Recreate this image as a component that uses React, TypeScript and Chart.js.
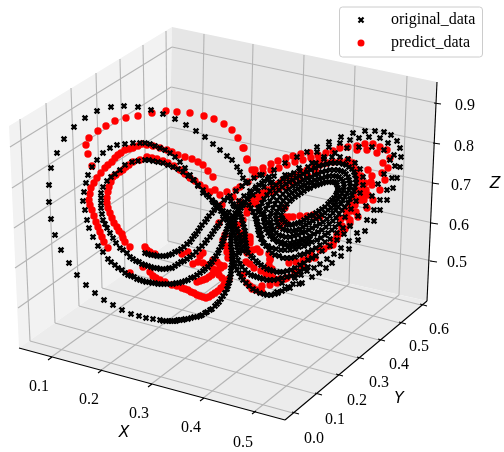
import React, { useEffect, useRef } from "react";
import { Chart, registerables } from "chart.js";

Chart.register(...registerables);

type P = [number, number];

// ---- original_data in projected plot units ----
const origSparseTop: P[] = [[246,183],[243,178],[240,172],[237,167],[232,160],[227,156],[220,150],[213,144],[205,137],[196,131],[186,125],[175,119],[163,114],[151,110],[138,107],[124,106],[111,107],[97,111],[85,118],[74,127],[64,139],[57,153],[51,168],[49,185],[49,202],[51,219]];
const origSparseBottom: P[] = [[55,235],[61,250],[69,263],[77,275],[86,285],[95,293],[104,300],[113,305],[122,310],[131,314],[139,316],[146,318],[153,319]];
const origSweep: P[] = [[160,320],[163,321],[166,321],[169,321],[171,321],[174,321],[176,321],[178,320],[180,320],[183,320],[185,319],[188,319],[191,318],[194,317],[197,317],[200,316],[202,315],[205,313],[207,312],[210,310],[212,309],[215,306],[217,304],[219,302],[221,299],[223,296],[225,293],[227,289],[228,286],[229,283],[230,280],[230,277],[231,274],[231,271],[231,268],[232,265],[232,262],[232,259],[232,256],[232,253],[232,250],[231,247],[231,244],[231,241],[231,238],[231,235],[232,232],[232,229],[233,226],[234,223],[235,220],[236,217],[238,214],[239,211],[241,208],[243,205],[245,202],[247,199],[249,196],[251,193],[255,189],[259,185],[264,181],[269,177]];
const origLeftOuterTop: P[] = [[207,195],[203,190],[198,185],[194,180],[190,175],[185,168],[180,162],[175,157],[170,153],[165,150],[160,148],[155,146],[150,144],[145,143],[140,143],[133,143],[125,144],[117,145],[110,148],[103,153],[97,160],[92,167],[88,175],[86,183],[84,192],[83,201],[85,210],[87,220],[89,228],[93,237],[98,246],[103,252]];
const origLeftOuterLow: P[] = [[108,259],[111,262],[115,265],[118,268],[122,270],[125,273],[128,275],[131,276],[134,277],[137,279],[140,280],[143,281],[146,282],[149,282],[152,283],[155,283],[158,284],[161,284],[164,284],[167,284],[170,284],[173,284],[176,283],[179,283],[182,282],[185,281],[188,280],[191,278],[194,277],[197,275],[200,273],[203,271],[205,269],[208,267],[210,264],[212,262],[214,259],[216,256],[218,253],[219,250],[221,247],[222,244],[223,241],[224,238],[225,235],[226,232],[227,229],[228,226],[229,223],[231,220],[233,216],[235,213],[238,209],[241,206],[244,203],[248,199],[253,195],[258,191],[264,187],[270,183]];
const origLeftInnerTop: P[] = [[203,193],[198,186],[193,180],[188,176],[183,172],[178,169],[173,167],[168,165],[163,163],[158,162],[153,161],[149,160],[145,160],[138,161],[132,162],[125,165],[120,170],[115,174],[111,177],[107,181],[103,187],[101,193],[101,198],[101,203],[101,208],[102,214],[103,220],[105,224],[107,228],[110,233],[113,238],[116,243],[120,248],[123,250],[127,253]];
const origLeftInnerLow: P[] = [[130,257],[133,259],[136,261],[139,262],[142,264],[145,265],[148,266],[151,267],[154,268],[157,268],[160,269],[163,269],[166,269],[169,268],[172,268],[175,266],[178,264],[181,262],[184,261],[187,259],[190,257],[193,255],[196,252],[199,249],[202,246],[205,243],[207,240],[210,237],[212,234],[214,231],[216,228],[218,226],[220,223],[223,219],[226,216],[229,212],[234,206],[239,201],[244,196],[250,191],[256,187],[262,183],[268,179],[274,176]];
const origTopTail: P[] = [[145,253],[148,254],[151,255],[154,255],[157,256],[160,256],[163,256],[166,256],[169,255],[172,254],[175,252],[178,251],[181,249],[184,247],[187,244],[190,242],[192,239],[194,236],[196,234],[198,231],[200,228],[202,225],[205,222],[207,219],[209,216],[212,213],[214,210],[219,205],[224,200],[230,196],[236,191],[242,186],[248,182],[254,178],[260,175]];
const origCross: P[] = [[209,197],[212,200],[215,203],[218,206],[220,208],[223,211],[225,213],[227,216],[229,218],[231,221],[233,223],[235,226],[237,229],[238,232],[240,235],[240,238],[241,241],[241,244],[242,248],[243,251],[213,202],[216,205],[218,208],[221,211],[223,214],[225,217],[227,220],[229,223],[231,226],[233,229],[234,232],[235,235],[236,238],[236,241],[237,244],[237,247],[238,250],[239,253],[228,198],[231,201],[233,204],[236,207],[238,210],[240,214],[241,217],[242,220],[243,224],[244,227],[245,231],[245,234],[249,205],[251,208],[253,212],[255,216],[256,219],[257,222],[258,225],[259,228],[258,208],[260,211],[262,214],[264,217],[265,219]];
const origRight1: P[] = [[233,260],[234,263],[235,266],[237,270],[239,273],[241,277],[243,280],[246,283],[249,286],[253,289],[256,291],[260,293],[264,294],[267,295],[271,295],[275,294],[278,293],[282,291],[285,289],[288,287],[293,284],[299,284]];
const origRight2: P[] = [[236,255],[238,260],[240,264],[242,267],[245,270],[248,273],[251,275],[254,276],[257,277],[260,278],[263,279],[267,280],[270,280],[274,280],[278,279],[282,278],[287,277],[291,276],[296,274],[300,271],[304,269],[308,267]];
const origRight3: P[] = [[245,237],[245,240],[246,243],[246,246],[247,249],[248,253],[251,256],[253,258],[256,261],[258,263],[261,265],[264,267],[267,269],[270,270],[273,271],[277,272],[280,272],[283,272],[287,271],[291,270],[295,268],[300,265],[304,263],[308,260],[312,258],[316,256],[322,251],[330,246],[337,240],[344,234],[350,226]];
const origRight4: P[] = [[260,230],[261,234],[262,238],[263,243],[266,246],[269,250],[272,253],[275,255],[279,256],[283,258],[287,258],[291,258],[295,257],[300,255],[304,254],[308,252],[312,250],[316,248],[320,245],[325,242],[330,239],[337,233],[343,228]];
const origRight5: P[] = [[268,223],[270,228],[271,232],[273,237],[275,239],[278,242],[281,244],[285,245],[289,246],[293,245],[297,244],[300,243],[304,242],[309,240]];
const origRingA: P[] = [[281,215],[283,210],[285,207],[287,204],[290,201],[292,199],[295,197],[298,195],[301,193],[304,191],[307,189],[310,188],[314,186],[317,185],[320,184],[323,183],[326,182],[329,182],[332,182],[334,182],[336,183],[337,185],[338,188],[338,190],[337,193],[336,195],[334,198],[332,200],[330,202],[328,204],[325,207],[322,209],[319,211],[316,213],[313,215],[310,216],[307,218],[304,220],[301,222],[298,223],[295,224],[292,225],[289,225],[287,224],[285,222],[283,220],[282,218]];
const origRingB: P[] = [[276,219],[276,215],[277,212],[279,208],[281,204],[283,201],[286,198],[289,195],[292,193],[295,191],[298,189],[301,187],[305,185],[308,183],[312,182],[315,180],[319,179],[322,178],[326,177],[329,176],[333,176],[336,176],[339,177],[341,179],[343,181],[344,184],[344,187],[343,190],[342,193],[340,196],[338,199],[336,202],[334,205],[331,208],[328,210],[325,213],[322,215],[319,217],[316,219],[313,221],[309,223],[306,225],[303,227],[300,229],[296,230],[293,231],[289,231],[286,230],[283,229],[280,227],[278,225],[277,222]];
const origRingC: P[] = [[271,222],[270,217],[271,213],[273,208],[275,204],[277,200],[280,197],[283,194],[286,191],[289,189],[293,186],[296,184],[300,182],[303,180],[307,178],[311,177],[315,175],[318,174],[322,172],[326,171],[330,170],[334,170],[338,170],[341,171],[344,172],[346,174],[348,177],[349,180],[350,183],[350,186],[349,190],[347,193],[345,197],[343,200],[341,204],[338,207],[336,210],[333,213],[330,216],[327,219],[323,222],[320,224],[316,226],[312,228],[309,230],[305,232],[302,233],[298,235],[294,236],[290,237],[286,237],[282,236],[279,235],[276,233],[274,230],[272,226]];
const origRingD: P[] = [[264,222],[264,218],[264,214],[266,209],[268,205],[270,201],[273,197],[276,193],[279,190],[282,187],[286,184],[289,182],[293,180],[296,178],[300,176],[303,174],[307,172],[311,170],[315,168],[319,166],[323,165],[327,164],[331,163],[335,163],[339,163],[343,164],[346,165],[349,167],[352,169],[354,172],[355,175],[356,179],[356,183],[355,187],[354,191],[352,195],[350,199],[348,203],[345,207],[342,210],[339,214],[336,218],[333,221],[329,224],[326,227],[322,230],[318,232],[314,234],[310,236],[306,238],[302,239],[298,241],[294,242],[290,243],[285,243],[281,242],[277,241],[273,239],[270,236],[268,233],[266,229],[265,226]];
const origRingE: P[] = [[257,224],[257,218],[258,212],[260,207],[262,203],[264,199],[267,195],[270,191],[273,188],[276,185],[280,182],[283,179],[287,177],[290,175],[294,173],[300,171],[308,167],[316,163],[324,159],[332,157],[340,157],[348,159],[355,163],[360,169],[363,177],[363,185],[360,193],[356,201],[351,209],[345,217],[339,224],[335,227],[332,230],[328,233],[325,235],[321,238],[317,240],[312,242],[308,244],[304,246],[299,247],[295,249],[290,250],[285,250],[281,250],[276,249],[272,248],[268,246],[264,243],[261,239],[259,235],[258,230]];
const origWingOuter: P[] = [[262,175],[274,170],[285,163],[297,157],[307,152],[317,147],[329,142],[341,137],[353,133],[365,131],[375,131],[384,132],[391,135],[397,141],[400,148],[401,157],[400,167],[397,178],[393,188],[387,200],[380,210],[374,221],[365,231],[358,240],[349,249],[341,256],[332,263],[326,268],[319,273],[312,277],[302,283],[290,288],[277,292]];
const origWingSecond: P[] = [[272,182],[285,175],[299,168],[312,163],[317,152],[329,147],[340,143],[350,140],[359,138],[369,137],[380,138],[388,143],[394,155],[395,166],[392,178],[387,190],[380,200],[374,210],[367,220],[357,233],[349,241],[341,248],[334,254],[327,259],[320,264],[314,268],[307,271],[301,275],[295,278],[282,283]];
const origWingThird: P[] = [[324,157],[335,153],[347,148],[359,147],[372,147],[384,150],[390,160],[384,174],[378,184],[372,196],[366,206],[358,216],[350,226]];

// ---- predict_data in projected plot units ----
const predTopArc: P[] = [[247,160],[244,148],[238,138],[232,130],[224,124],[214,119],[204,116],[190,113],[177,112],[166,111],[152,113],[138,116],[126,118],[115,121],[106,126],[98,131],[89,138],[86,145],[88,154],[92,166]];
const predLeftOuter: P[] = [[213,177],[208,171],[203,165],[198,162],[192,159],[185,157],[178,155],[172,152],[167,150],[160,148],[153,146],[147,145],[142,144],[138,146],[133,148],[129,149],[125,150],[121,153],[118,155],[115,158],[112,162],[108,165],[105,168],[101,173],[97,178],[94,183],[91,188],[90,194],[89,200],[90,205],[92,210],[94,216],[96,222],[98,227],[100,232],[102,237],[104,242],[108,248]];
const predLeftInner: P[] = [[210,192],[205,188],[200,185],[195,181],[190,178],[185,174],[180,170],[174,166],[168,163],[163,161],[157,159],[152,158],[147,157],[140,160],[133,162],[129,165],[126,167],[123,170],[120,172],[116,175],[113,177],[111,182],[109,187],[108,192],[107,198],[107,203],[108,208],[110,213],[112,218],[114,223],[117,227],[119,231],[122,234],[123,238],[125,242],[130,247]];
const predLowerA: P[] = [[145,247],[147,250],[150,252],[155,254],[130,273],[143,267],[150,272],[153,276],[156,278],[160,280],[165,282],[172,285],[177,286],[182,288],[185,289],[188,290],[191,292],[194,293],[197,295],[200,296],[203,297],[206,298],[209,297],[212,295],[215,293],[218,291],[221,288],[224,285],[227,282],[229,279],[210,266],[213,269],[216,272],[219,275],[222,278],[225,281],[208,265],[203,263],[198,262],[193,264],[188,252],[182,254],[200,256],[203,253],[197,282],[200,281],[203,280],[206,279],[209,277],[212,275],[215,272],[218,270],[221,268],[224,266],[227,252],[223,240],[226,246],[213,260],[217,262],[220,265],[228,258]];
const predLowerB: P[] = [[247,253],[250,251],[253,250],[260,252],[250,240],[245,236],[240,233],[270,260],[269,265],[268,270],[270,274],[273,278],[280,279],[287,278],[247,283],[250,286],[253,288],[257,290],[262,292],[252,289],[262,286],[270,285],[277,283],[285,279],[295,274],[272,269],[270,259],[269,254],[257,249],[243,240],[246,262],[250,264],[254,268],[243,275],[261,271],[266,274],[289,263],[296,262],[303,260],[311,255],[320,250]];
const predWingTop: P[] = [[243,148],[247,159],[255,170],[263,168],[271,164],[278,161],[286,158],[293,156],[301,154],[310,153],[318,155],[326,153],[333,151],[340,148],[348,147],[357,146],[365,144],[373,144],[380,147],[387,150],[390,158],[388,168],[385,180],[380,190],[373,200],[367,208],[358,217],[350,223],[340,233],[337,238],[333,245],[329,246],[324,249],[315,258],[309,259],[302,266],[295,271]];
const predWingSecond: P[] = [[348,160],[353,163],[357,150],[367,150],[377,153],[383,163],[382,173],[372,185],[368,195],[362,200],[342,228],[339,234],[334,241],[368,170],[372,176],[371,182],[366,190],[364,200],[356,212],[350,220],[345,229]];
const predRing: P[] = [[247,207],[252,202],[257,197],[262,193],[267,190],[273,187],[278,184],[283,180],[289,177],[295,175],[301,172],[307,170],[314,167],[320,165],[327,163],[333,162],[340,161],[347,162],[352,166],[357,170],[361,176],[365,183],[364,189],[362,195],[359,200],[355,205],[351,211],[347,217],[342,226],[337,235]];
const predBand: P[] = [[255,176],[263,173],[271,170],[279,168],[287,165],[295,162],[303,160],[311,158],[319,160],[256,204],[260,198],[266,194],[272,192],[279,189],[286,186],[293,183],[300,179],[308,176],[316,172],[358,176],[360,182],[358,190],[354,197],[350,204],[346,211],[341,219]];
const predHole: P[] = [[285,208],[285,217],[289,217],[293,217],[300,216],[307,216],[313,215],[320,217],[282,220],[287,223],[280,226]];
const predCross: P[] = [[233,197],[227,192],[220,195],[240,187],[248,182],[252,170],[240,202],[253,197],[247,213],[243,220],[250,237],[250,243],[236,190],[222,205],[215,190],[238,225],[225,235],[219,223]];

const originalData: P[] = [...origSparseTop, ...origSparseBottom, ...origSweep, ...origLeftOuterTop, ...origLeftOuterLow, ...origLeftInnerTop, ...origLeftInnerLow, ...origTopTail, ...origCross, ...origRight1, ...origRight2, ...origRight3, ...origRight4, ...origRight5, ...origRingA, ...origRingB, ...origRingC, ...origRingD, ...origRingE, ...origWingOuter, ...origWingSecond, ...origWingThird];
const predictData: P[] = [...predTopArc, ...predLeftOuter, ...predLeftInner, ...predLowerA, ...predLowerB, ...predWingTop, ...predWingSecond, ...predRing, ...predBand, ...predHole, ...predCross];

// ---- tick labels ----
const xTicks = ["0.1", "0.2", "0.3", "0.4", "0.5"];
const yTicks = ["0.0", "0.1", "0.2", "0.3", "0.4", "0.5", "0.6"];
const zTicks = ["0.9", "0.8", "0.7", "0.6", "0.5"];
const seriesNames = ["original_data", "predict_data"];

// ---- frame of the projected box ----
const leftPane: P[] = [[9,126],[172,27],[168,243],[19,348]];
const rightPane: P[] = [[172,27],[437,82],[427,301],[168,243]];
const floorPane: P[] = [[19,348],[168,243],[427,301],[285,420]];
const axisLines: P[][] = [[[19,348],[285,420]],[[285,420],[427,301]],[[437,82],[427,301]]];

const zGridBack: number[] = [47, 87, 127, 165, 202];
const zGridLeft: P[] = [[10,147],[12,188],[14,228],[15,268],[18,308]];
const zGridRight: P[] = [[436,103],[435,143],[434,183],[433,223],[432,261]];
const yWallTop: P[] = [[20,119],[46,103],[71,88],[96,73],[120,59],[143,45],[166,31]];
const yWallBottom: P[] = [[30,341],[55,323],[79,306],[102,288],[125,272],[147,256],[168,241]];
const xWallTop: P[] = [[204,34],[253,44],[304,55],[355,66],[407,76]];
const xWallBottom: P[] = [[200,250],[248,261],[298,272],[349,284],[399,295]];
const xFloorFront: P[] = [[50,358],[100,371],[150,385],[202,399],[254,412]];
const yFloorRight: P[] = [[293,413],[316,394],[337,375],[358,358],[379,340],[400,323],[421,305]];

const xTickPos: P[] = [[39,387],[89,400],[139,414],[191,428],[243,443]];
const yTickPos: P[] = [[314,439],[335,420],[357,401],[379,383],[399,365],[419,347],[439,330]];
const zTickPos: P[] = [[465,106],[464,147],[461,186],[459,226],[457,263]];

function gridSegments(): P[][] {
  const out: P[][] = [];
  zGridBack.forEach((y, i) => {
    const back: P = [172 - i * 0.8, y];
    out.push([zGridLeft[i], back], [back, zGridRight[i]]);
  });
  yWallTop.forEach((p, i) => {
    out.push([p, yWallBottom[i]], [yWallBottom[i], yFloorRight[i]]);
  });
  xWallTop.forEach((p, i) => {
    out.push([p, xWallBottom[i]], [xWallBottom[i], xFloorFront[i]]);
  });
  return out;
}

function tickSegments(): P[][] {
  const out: P[][] = [];
  zGridRight.forEach(([x, y]) => out.push([[x - 2, y], [x + 5, y + 1]]));
  xFloorFront.forEach(([x, y]) => out.push([[x - 2, y + 2], [x + 2, y - 1]]));
  yFloorRight.forEach(([x, y]) => out.push([[x - 1, y - 1], [x + 6, y + 1]]));
  return out;
}

const toXY = (pts: P[]) => pts.map(([x, y]) => ({ x, y }));
const SERIF = "'Liberation Serif', serif";

const framePlugin = {
  id: "frame",
  beforeDatasetsDraw(chart: any) {
    const { ctx, scales } = chart;
    const poly = (pts: P[], fill: string) => {
      ctx.beginPath();
      pts.forEach(([x, y], i) => {
        const px = scales.x.getPixelForValue(x);
        const py = scales.y.getPixelForValue(y);
        if (i) ctx.lineTo(px, py);
        else ctx.moveTo(px, py);
      });
      ctx.closePath();
      ctx.fillStyle = fill;
      ctx.fill();
    };
    poly(leftPane, "#f2f2f2");
    poly(rightPane, "#e6e6e6");
    poly(floorPane, "#ececec");
  },
  afterDraw(chart: any) {
    const { ctx, scales } = chart;
    const X = (v: number) => scales.x.getPixelForValue(v);
    const Y = (v: number) => scales.y.getPixelForValue(v);
    ctx.save();
    ctx.textAlign = "center";
    ctx.textBaseline = "middle";
    ctx.fillStyle = "#000";
    ctx.font = `16px ${SERIF}`;
    xTicks.forEach((t, i) => ctx.fillText(t, X(xTickPos[i][0]), Y(xTickPos[i][1])));
    yTicks.forEach((t, i) => ctx.fillText(t, X(yTickPos[i][0]), Y(yTickPos[i][1])));
    zTicks.forEach((t, i) => ctx.fillText(t, X(zTickPos[i][0]), Y(zTickPos[i][1])));
    ctx.font = "italic 15.5px 'DejaVu Sans', sans-serif";
    ctx.fillText("X", X(124), Y(433));
    ctx.fillText("Y", X(399), Y(399));
    ctx.fillText("Z", X(495), Y(184));

    // legend
    ctx.beginPath();
    ctx.roundRect(339.5, 7, 143, 50, 3);
    ctx.fillStyle = "rgba(255,255,255,0.85)";
    ctx.fill();
    ctx.strokeStyle = "#cccccc";
    ctx.lineWidth = 1;
    ctx.stroke();
    ctx.fillStyle = "#000";
    ctx.textAlign = "left";
    ctx.font = `16px ${SERIF}`;
    ctx.fillText(seriesNames[0], 391, 20);
    ctx.fillText(seriesNames[1], 391, 43);
    ctx.strokeStyle = "#000";
    ctx.lineWidth = 2.2;
    ctx.beginPath();
    ctx.moveTo(358.5, 17.5);
    ctx.lineTo(363.5, 22.5);
    ctx.moveTo(363.5, 17.5);
    ctx.lineTo(358.5, 22.5);
    ctx.stroke();
    ctx.beginPath();
    ctx.arc(361, 43, 3.5, 0, Math.PI * 2);
    ctx.fillStyle = "#ff0000";
    ctx.fill();
    ctx.restore();
  },
};

export default function App() {
  const ref = useRef<HTMLCanvasElement | null>(null);
  useEffect(() => {
    if (!ref.current) return;
    const lineSet = (seg: P[], color: string, order: number) => ({
      data: toXY(seg),
      showLine: true,
      borderColor: color,
      borderWidth: 1.1,
      pointRadius: 0,
      fill: false,
      order,
    });
    const chart = new Chart(ref.current, {
      type: "scatter",
      data: {
        datasets: [
          {
            label: seriesNames[0],
            data: toXY(originalData),
            pointStyle: "crossRot",
            pointRadius: 3.4,
            pointBorderWidth: 2.4,
            borderColor: "#000000",
            backgroundColor: "#000000",
            order: 1,
          },
          {
            label: seriesNames[1],
            data: toXY(predictData),
            pointStyle: "circle",
            pointRadius: 3.7,
            pointBorderWidth: 0,
            borderColor: "#ff0000",
            backgroundColor: "#ff0000",
            order: 2,
          },
          ...axisLines.map((s) => lineSet(s, "#000000", 3)),
          ...tickSegments().map((s) => lineSet(s, "#000000", 3)),
          ...gridSegments().map((s) => lineSet(s, "#b4b4b4", 4)),
        ] as any,
      },
      options: {
        responsive: false,
        animation: false,
        layout: { padding: 0, autoPadding: false },
        plugins: { legend: { display: false }, tooltip: { enabled: false } },
        scales: {
          x: { type: "linear", min: 0, max: 504, display: false },
          y: { type: "linear", min: 0, max: 452, reverse: true, display: false },
        },
      },
      plugins: [framePlugin],
    });
    return () => chart.destroy();
  }, []);
  return (
    <div style={{ position: "absolute", left: 0, top: 0, width: 504, height: 452, background: "#fff" }}>
      <canvas ref={ref} width={504} height={452} style={{ display: "block" }} />
    </div>
  );
}
